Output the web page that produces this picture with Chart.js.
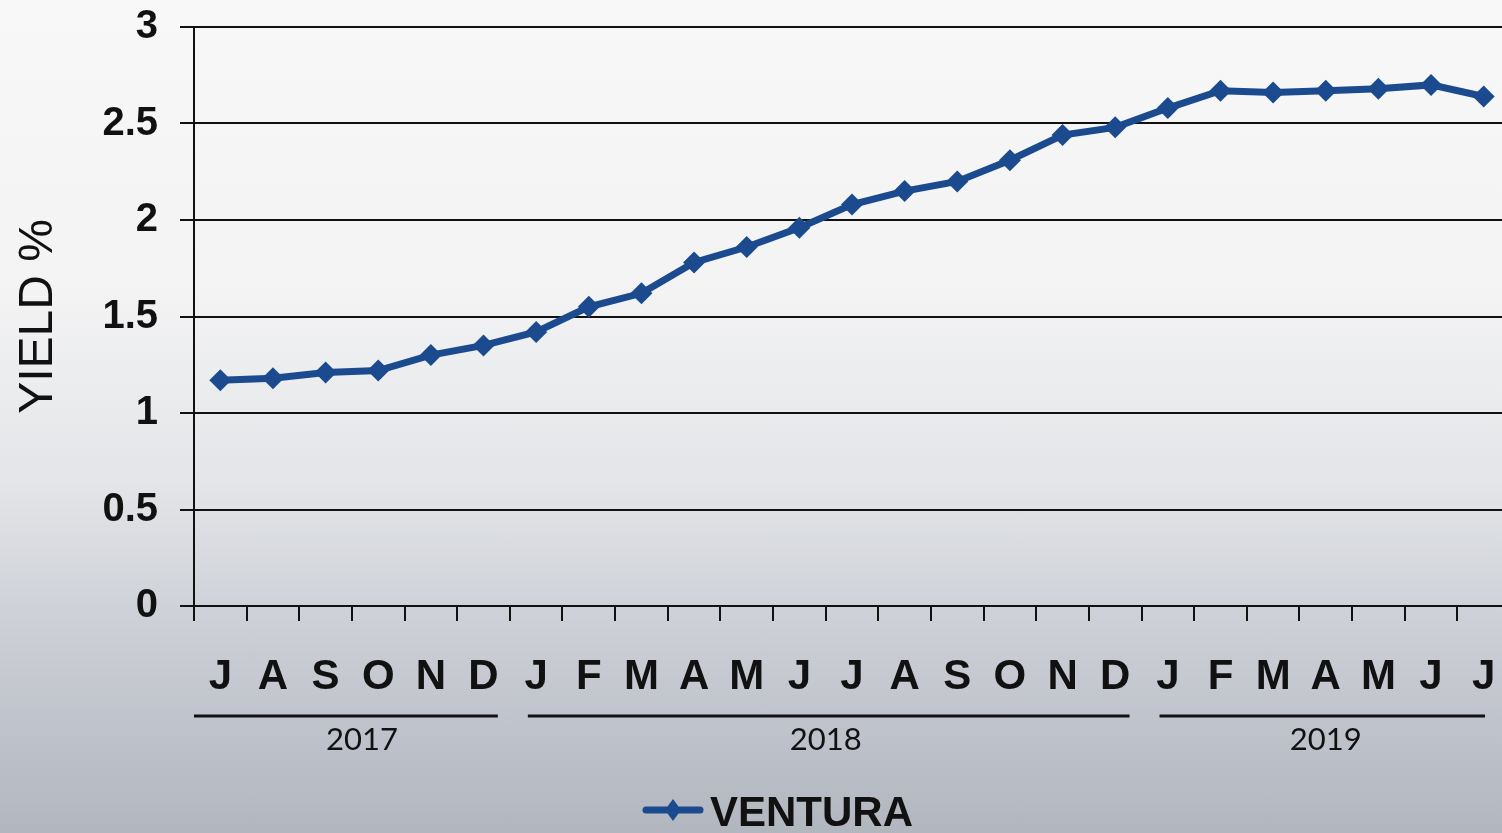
<!DOCTYPE html>
<html>
<head>
<meta charset="utf-8">
<script src="https://cdn.jsdelivr.net/npm/chart.js@4"></script>
<style>
  html, body {
    margin: 0;
    padding: 0;
    overflow: hidden;
    width: 1502px;
    height: 833px;
    background: linear-gradient(to bottom, #f8f8f8 0%, #f3f3f4 35%, #e3e5e8 58%, #cbced5 76%, #b2b6bf 100%);
  }
  #wrap {
    position: absolute;
    left: 0;
    top: 0;
    width: 1521px;
    height: 833px;
  }
</style>
</head>
<body>
<div id="wrap"><canvas id="myChart"></canvas></div>
<script>
const meses = ["J", "A", "S", "O", "N", "D",
  "J", "F", "M", "A", "M", "J", "J", "A", "S", "O", "N", "D",
  "J", "F", "M", "A", "M", "J", "J"];
const ventura = [1.17, 1.18, 1.21, 1.22, 1.30, 1.35,
  1.42, 1.55, 1.62, 1.78, 1.86, 1.96, 2.08, 2.15, 2.20, 2.31, 2.44, 2.48,
  2.58, 2.67, 2.66, 2.67, 2.68, 2.70, 2.64];
const anios = ["2017", "2018", "2019"];
const mesesPorAnio = [6, 12, 7];
const serieNombre = "VENTURA";

const azul = "#1b4b8e";
const negro = "#111111";

// lineas y textos de los años bajo el eje x, y la leyenda
const anioPlugin = {
  id: "anios",
  afterDraw(chart) {
    const ctx = chart.ctx;
    const x = chart.scales.x;
    const area = chart.chartArea;
    const paso = (area.right - area.left) / meses.length;
    let inicio = 0;
    ctx.save();
    anios.forEach((anio, i) => {
      const fin = inicio + mesesPorAnio[i] - 1;
      let x1 = x.getPixelForValue(inicio) - paso / 2 + (i === 0 ? 0 : 18);
      let x2 = x.getPixelForValue(fin) + paso / 2 - 12;
      x2 = Math.min(x2, 1485);
      ctx.strokeStyle = negro;
      ctx.lineWidth = 3;
      ctx.beginPath();
      ctx.moveTo(x1, area.bottom + 110);
      ctx.lineTo(x2, area.bottom + 110);
      ctx.stroke();
      const centro = (x.getPixelForValue(inicio) + x.getPixelForValue(fin)) / 2;
      ctx.fillStyle = negro;
      ctx.font = "31px Lato, 'DejaVu Sans', sans-serif";
      ctx.textAlign = "center";
      ctx.textBaseline = "middle";
      ctx.fillText(anio, centro + (i === 0 ? 10 : 0), area.bottom + 134);
      inicio = fin + 1;
    });

    // leyenda
    const ly = 810;
    ctx.strokeStyle = azul;
    ctx.lineWidth = 7;
    ctx.lineCap = "round";
    ctx.beginPath();
    ctx.moveTo(646, ly);
    ctx.lineTo(700, ly);
    ctx.stroke();
    ctx.fillStyle = azul;
    ctx.beginPath();
    ctx.moveTo(673, ly - 11);
    ctx.lineTo(681, ly);
    ctx.lineTo(673, ly + 11);
    ctx.lineTo(665, ly);
    ctx.closePath();
    ctx.fill();
    ctx.fillStyle = negro;
    ctx.font = "bold 42px 'Liberation Sans', Arial, sans-serif";
    ctx.textAlign = "left";
    ctx.textBaseline = "alphabetic";
    ctx.fillText(serieNombre, 710, 826);
    ctx.restore();
  }
};

const chartDOM = document.querySelector("#myChart");
const myChart = new Chart(chartDOM, {
  type: "line",
  data: {
    labels: meses,
    datasets: [{
      label: serieNombre,
      data: ventura,
      borderColor: azul,
      backgroundColor: azul,
      borderWidth: 7,
      tension: 0,
      pointStyle: "rectRot",
      pointRadius: 11,
      pointBackgroundColor: azul,
      pointBorderColor: azul,
      pointBorderWidth: 0
    }]
  },
  options: {
    responsive: true,
    maintainAspectRatio: false,
    animation: false,
    layout: { padding: { top: 27, right: 0, bottom: 0, left: 0 } },
    plugins: {
      legend: { display: false },
      tooltip: { enabled: false }
    },
    scales: {
      x: {
        offset: true,
        grid: {
          offset: true,
          drawOnChartArea: false,
          tickLength: 15,
          color: negro,
          lineWidth: 2
        },
        border: { color: negro, width: 2 },
        ticks: {
          color: negro,
          font: { family: "'Liberation Sans', Arial, sans-serif", size: 42, weight: "bold" },
          padding: 31,
          maxRotation: 0,
          autoSkip: false
        },
        afterFit: (s) => { s.height = 227; s.paddingLeft = 0; s.paddingRight = 0; }
      },
      y: {
        min: 0,
        max: 3,
        grid: {
          color: negro,
          lineWidth: 2,
          tickLength: 14
        },
        border: { color: negro, width: 2 },
        ticks: {
          stepSize: 0.5,
          color: negro,
          padding: 22,
          font: { family: "'Liberation Sans', Arial, sans-serif", size: 40, weight: "bold" },
          callback: (v) => String(v)
        },
        title: {
          display: true,
          text: "YIELD %",
          color: negro,
          padding: { top: 10, bottom: 0 },
          font: { family: "'Liberation Sans', Arial, sans-serif", size: 48 }
        },
        afterFit: (s) => { s.width = 194; s.paddingTop = 0; s.paddingBottom = 0; }
      }
    }
  },
  plugins: [anioPlugin]
});
</script>
</body>
</html>
